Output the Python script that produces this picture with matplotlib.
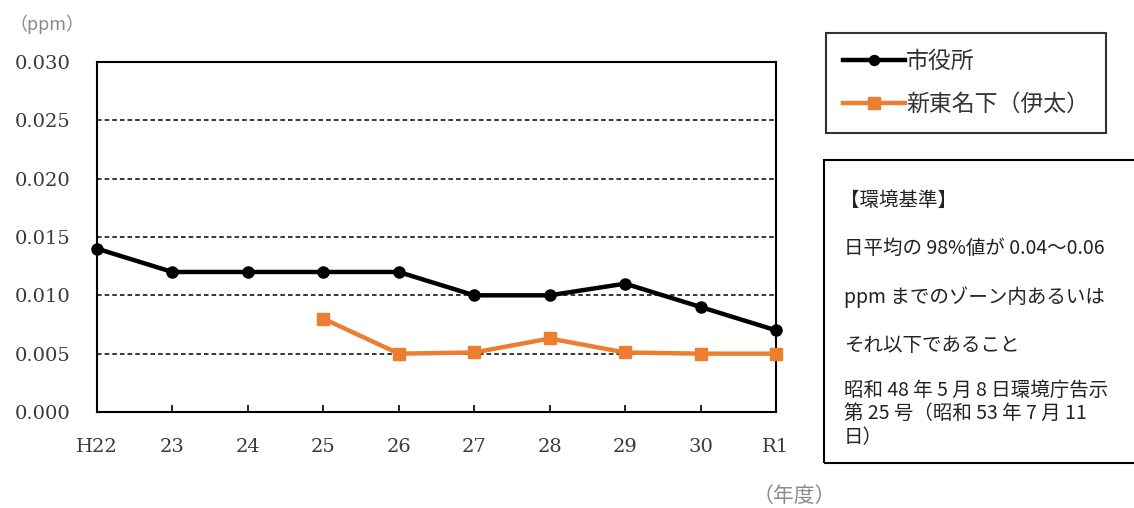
import matplotlib.pyplot as plt
from matplotlib.patches import Rectangle

plt.rcParams['font.family'] = ['Noto Sans CJK JP', 'DejaVu Sans']

years = ['H22', '23', '24', '25', '26', '27', '28', '29', '30', 'R1']
shiyakusho = [0.014, 0.012, 0.012, 0.012, 0.012, 0.010, 0.010, 0.011, 0.009, 0.007]
# 新東名下 starts from 25
shintomei_x = [3, 4, 5, 6, 7, 8, 9]
shintomei = [0.008, 0.005, 0.0051, 0.0063, 0.0051, 0.005, 0.005]
yticks = [0.000, 0.005, 0.010, 0.015, 0.020, 0.025, 0.030]

fig = plt.figure(figsize=(11.34, 5.08), dpi=100)
ax = fig.add_axes([0.0855, 0.189, 0.5988, 0.689])

for y in yticks[1:-1]:
    ax.axhline(y, color='black', linestyle=(0, (3, 2)), linewidth=1.1, zorder=1)

l1, = ax.plot(range(len(years)), shiyakusho, color='black', linewidth=3.2,
              marker='o', markersize=8, label='市役所', zorder=3, clip_on=False)
l2, = ax.plot(shintomei_x, shintomei, color='#ED7D31', linewidth=3.2,
              marker='s', markersize=9, label='新東名下（伊太）', zorder=3, clip_on=False)

ax.set_xlim(0, 9)
ax.set_ylim(0, 0.030)
ax.set_yticks(yticks)
ax.set_yticklabels(['%.3f' % v for v in yticks], family='DejaVu Serif', fontsize=14, color='#3a3a3a')
ax.set_xticks(range(len(years)))
ax.set_xticklabels(years, family='DejaVu Serif', fontsize=14, color='#3a3a3a')
ax.tick_params(axis='y', length=0, pad=19)
ax.tick_params(axis='x', direction='in', length=5, width=1.2, pad=19)
for s in ax.spines.values():
    s.set_linewidth(1.5)
    s.set_color('black')

fig.text(0.008, 0.94, '（ppm）', fontsize=13, color='#8a8a8a')
fig.text(0.664, 0.012, '（年度）', fontsize=15, color='#8a8a8a')

leg = fig.legend(handles=[l1, l2], loc='upper left', bbox_to_anchor=(0.7284, 0.935),
                 borderaxespad=0, frameon=True, fancybox=False, edgecolor='black',
                 fontsize=16.5, handlelength=2.7, handletextpad=0.05, labelspacing=0.85,
                 borderpad=0.75, markerscale=0.9)
leg.get_frame().set_linewidth(1.5)
for t in leg.get_texts():
    t.set_color('#333333')

fig.patches.append(Rectangle((0.727, 0.088), 0.28, 0.598, transform=fig.transFigure,
                             fill=False, edgecolor='black', linewidth=1.5))
box_lines = [
    (0.741, 0.605, '【環境基準】'),
    (0.744, 0.510, '日平均の 98%値が 0.04～0.06'),
    (0.744, 0.414, 'ppm までのゾーン内あるいは'),
    (0.744, 0.319, 'それ以下であること'),
    (0.744, 0.232, '昭和 48 年 5 月 8 日環境庁告示'),
    (0.744, 0.186, '第 25 号（昭和 53 年 7 月 11'),
    (0.744, 0.139, '日）'),
]
for x, y, s in box_lines:
    fig.text(x, y, s, fontsize=14, color='#222222', va='center')

fig.savefig('out.png', dpi=100)
